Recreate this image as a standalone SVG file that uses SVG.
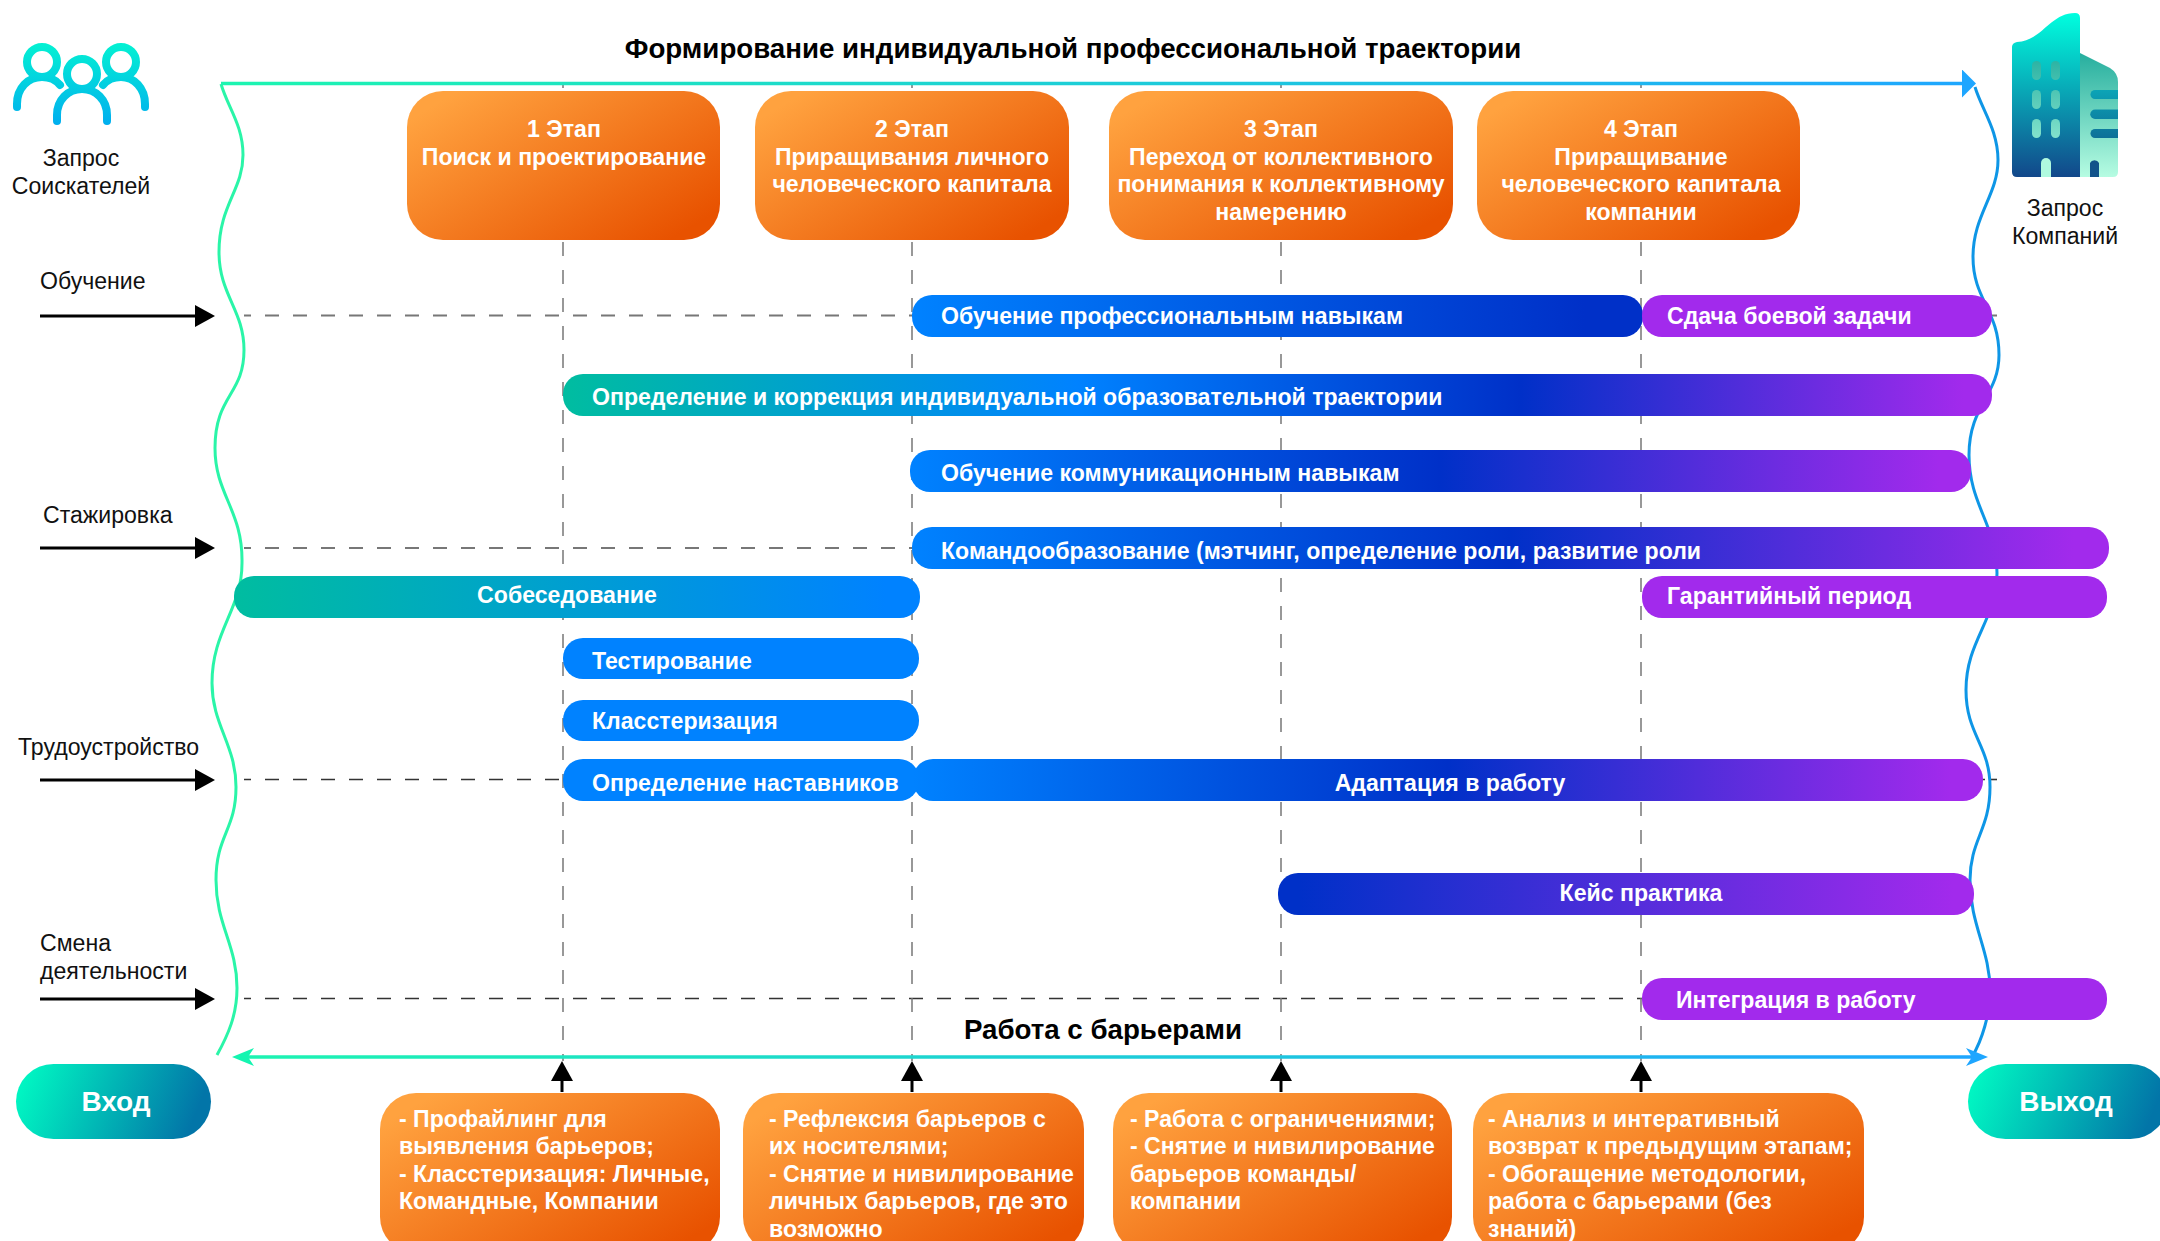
<svg xmlns="http://www.w3.org/2000/svg" width="2160" height="1241" viewBox="0 0 2160 1241">
<style>
text{font-family:"Liberation Sans",Arial,sans-serif}
.t{font-size:23.100px;fill:#111}
.b{font-size:23.100px;font-weight:700;fill:#fff}
.h{font-size:27.700px;font-weight:700;fill:#000}
.pill{font-size:28px;font-weight:700;fill:#fff}
.m{text-anchor:middle}
.dash{stroke:#777;stroke-width:2;stroke-dasharray:14 14;stroke-dashoffset:7;fill:none}
.dash2{stroke:#333;stroke-width:1.600;stroke-dasharray:14 14;stroke-dashoffset:7;fill:none}
.vdash{stroke:#777;stroke-width:1.500;stroke-dasharray:14 14;stroke-dashoffset:10;fill:none}
.blk{stroke:#000;stroke-width:3;fill:none}
</style>
<defs>
<linearGradient id="or" x1="0" y1="0.1" x2="1" y2="0.9"><stop offset="0.05" stop-color="#FFA23F"/><stop offset="0.95" stop-color="#E85200"/></linearGradient>
<linearGradient id="pillg" x1="0" y1="0" x2="1" y2="0.15"><stop offset="0" stop-color="#00FFC4"/><stop offset="1" stop-color="#0275A8"/></linearGradient>
<linearGradient id="gProf" x1="0" x2="1" y1="0" y2="0"><stop offset="0" stop-color="#0082FF"/><stop offset="0.92" stop-color="#0030C8"/></linearGradient>
<linearGradient id="gTraj" x1="0" x2="1" y1="0" y2="0"><stop offset="0" stop-color="#00BDA0"/><stop offset="0.36" stop-color="#0082FF"/><stop offset="0.67" stop-color="#0030C8"/><stop offset="0.98" stop-color="#A22AEC"/></linearGradient>
<linearGradient id="gBP" x1="0" x2="1" y1="0" y2="0"><stop offset="0" stop-color="#0082FF"/><stop offset="0.5" stop-color="#0030C8"/><stop offset="0.97" stop-color="#A22AEC"/></linearGradient>
<linearGradient id="gTealBlue" x1="0" x2="1" y1="0" y2="0"><stop offset="0" stop-color="#00BDA0"/><stop offset="0.95" stop-color="#0082FF"/></linearGradient>
<linearGradient id="gDark" x1="0" x2="1" y1="0" y2="0"><stop offset="0.03" stop-color="#0030C8"/><stop offset="0.97" stop-color="#A22AEC"/></linearGradient>
<linearGradient id="topL" gradientUnits="userSpaceOnUse" x1="221" x2="1976" y1="0" y2="0"><stop offset="0" stop-color="#1CF5B0"/><stop offset="1" stop-color="#1EA6FF"/></linearGradient>
<linearGradient id="ppl" gradientUnits="userSpaceOnUse" x1="0" x2="0" y1="42" y2="125"><stop offset="0" stop-color="#04F2D2"/><stop offset="1" stop-color="#00AEEF"/></linearGradient>
<linearGradient id="bl" gradientUnits="userSpaceOnUse" x1="0" x2="0" y1="13" y2="177"><stop offset="0" stop-color="#00FFDF"/><stop offset="1" stop-color="#12478A"/></linearGradient>
<linearGradient id="br" gradientUnits="userSpaceOnUse" x1="0" x2="0" y1="53" y2="177"><stop offset="0" stop-color="#26AE9E"/><stop offset="1" stop-color="#B6FCE2"/></linearGradient>
<linearGradient id="bw" gradientUnits="userSpaceOnUse" x1="0" x2="0" y1="61" y2="138"><stop offset="0" stop-color="#2DB3A4"/><stop offset="1" stop-color="#82E2CC"/></linearGradient>
<linearGradient id="bs" gradientUnits="userSpaceOnUse" x1="0" x2="0" y1="90" y2="138"><stop offset="0" stop-color="#0CA4B6"/><stop offset="1" stop-color="#0D7098"/></linearGradient>
<marker id="mBlk" markerUnits="userSpaceOnUse" markerWidth="20" markerHeight="24" refX="0" refY="12" orient="auto"><path d="M0,1L20,12L0,23Z" fill="#000"/></marker>
<marker id="mBlue" markerUnits="userSpaceOnUse" markerWidth="14" markerHeight="28" refX="0" refY="14" orient="auto"><path d="M0,0L14,14L0,28Z" fill="#1EA6FF"/></marker>
<marker id="mG" markerUnits="userSpaceOnUse" markerWidth="22" markerHeight="18" refX="6" refY="9" orient="auto"><path d="M0,0L22,9L0,18L6,9Z" fill="#14F5B0"/></marker>
<marker id="mB2" markerUnits="userSpaceOnUse" markerWidth="22" markerHeight="18" refX="6" refY="9" orient="auto"><path d="M0,0L22,9L0,18L6,9Z" fill="#1EA6FF"/></marker>
</defs>

<g id="connectors">
<path class="dash" d="M244,315.500H1985"/>
<path class="dash" d="M244,548H1985"/>
<path class="dash2" d="M244,779.500H1985"/>
<path class="dash2" d="M244,998.500H1985"/>
<path d="M1988,315.500H1997" stroke="#777" stroke-width="2" fill="none"/>
<path d="M1989,779.500H1997" stroke="#333" stroke-width="1.600" fill="none"/>
<path class="vdash" d="M563,84V1061"/><path class="vdash" d="M912,84V1061"/><path class="vdash" d="M1281,84V1061"/><path class="vdash" d="M1641,84V1061"/>
<path d="M221,84C228,108 243,125 243,155C243,190 219,205 219,252C219,295 244,310 244,350C244,395 215,395 215,448C215,495 243,510 242,563C242,610 212,630 212,683C212,725 236,745 236,787C236,830 216,835 216,880C216,925 237,945 237,988C237,1015 228,1035 217,1055" fill="none" stroke="#2AF5A8" stroke-width="3"/>
<path d="M1975,87C1982,110 1998,130 1998,160C1998,195 1973,215 1973,257C1973,300 1999,310 1999,355C1999,395 1969,405 1969,455C1969,505 1997,525 1997,573C1997,620 1966,640 1966,690C1966,735 1990,745 1990,787C1990,830 1970,840 1970,880C1970,925 1990,950 1990,990C1990,1015 1982,1040 1972,1057" fill="none" stroke="#0E96E6" stroke-width="3"/>
<path d="M221,83.500H1962" stroke="url(#topL)" stroke-width="3.500" fill="none" marker-end="url(#mBlue)"/>
<path d="M1100,1057H248" stroke="url(#topL)" stroke-width="3.500" fill="none" marker-end="url(#mG)"/>
<path d="M1100,1057H1972" stroke="url(#topL)" stroke-width="3.500" fill="none" marker-end="url(#mB2)"/>
<path class="blk" d="M40,316H195" marker-end="url(#mBlk)"/>
<path class="blk" d="M40,548H195" marker-end="url(#mBlk)"/>
<path class="blk" d="M40,780H195" marker-end="url(#mBlk)"/>
<path class="blk" d="M40,999H195" marker-end="url(#mBlk)"/>
<path class="blk" d="M562,1092V1081" marker-end="url(#mBlk)"/>
<path class="blk" d="M912,1092V1081" marker-end="url(#mBlk)"/>
<path class="blk" d="M1281,1092V1081" marker-end="url(#mBlk)"/>
<path class="blk" d="M1641,1092V1081" marker-end="url(#mBlk)"/>
</g>

<g id="title"><text class="h m" x="1073" y="58">Формирование индивидуальной профессиональной траектории</text></g>
<g id="barriers-title"><text class="h m" x="1103" y="1039">Работа с барьерами</text></g>

<g id="icon-seekers" fill="none" stroke="url(#ppl)" stroke-width="8" stroke-linecap="round">
<circle cx="42" cy="62" r="15"/><circle cx="121" cy="62" r="15"/><circle cx="82" cy="74" r="15"/>
<path d="M17,107V104C17,88 28,77 42,77C50,77 56,80 60,85"/>
<path d="M145,107V104C145,88 134,77 121,77C113,77 107,80 103,85"/>
<path d="M57,121V115C57,100 68,89 82,89C96,89 107,100 107,115V121"/>
</g>
<g id="label-seekers"><text class="t m" x="81" y="166">Запрос</text><text class="t m" x="81" y="194">Соискателей</text></g>

<g id="icon-companies">
<path d="M2080,53L2110,68Q2118,73 2118,82V172Q2118,177 2113,177H2080Z" fill="url(#br)"/>
<path d="M2017,177Q2012,177 2012,172V47Q2012,43 2017,42C2042,41 2050,13 2075,13Q2080,13 2080,18V177Z" fill="url(#bl)"/>
<g fill="url(#bw)">
<rect x="2032" y="61" width="9" height="19" rx="4.500"/><rect x="2051" y="61" width="9" height="19" rx="4.500"/>
<rect x="2032" y="90" width="9" height="19" rx="4.500"/><rect x="2051" y="90" width="9" height="19" rx="4.500"/>
<rect x="2032" y="119" width="9" height="19" rx="4.500"/><rect x="2051" y="119" width="9" height="19" rx="4.500"/>
</g>
<g fill="url(#bs)">
<path d="M2118,90H2095A4.500,4.500 0 0 0 2095,99H2118Z"/>
<path d="M2118,109.500H2095A4.500,4.500 0 0 0 2095,119H2118Z"/>
<path d="M2118,129H2095A4.500,4.500 0 0 0 2095,138H2118Z"/>
</g>
<path d="M2041,177V163A5,5 0 0 1 2051,163V177Z" fill="#B0FADF"/>
<path d="M2090,177V163A5,5 0 0 1 2099,163V177Z" fill="#11528A"/>
</g>
<g id="label-companies"><text class="t m" x="2065" y="216">Запрос</text><text class="t m" x="2065" y="244">Компаний</text></g>

<g id="label-learning"><text class="t" x="40" y="289">Обучение</text></g>
<g id="label-internship"><text class="t" x="43" y="523">Стажировка</text></g>
<g id="label-employment"><text class="t" x="18" y="755">Трудоустройство</text></g>
<g id="label-change"><text class="t" x="40" y="951">Смена</text><text class="t" x="40" y="979">деятельности</text></g>

<g id="stage-1"><rect x="407" y="91" width="313" height="149" rx="36" fill="url(#or)"/><text class="b m" x="564" y="137">1 Этап</text><text class="b m" x="564" y="165">Поиск и проектирование</text></g>
<g id="stage-2"><rect x="755" y="91" width="314" height="149" rx="36" fill="url(#or)"/><text class="b m" x="912" y="137">2 Этап</text><text class="b m" x="912" y="165">Приращивания личного</text><text class="b m" x="912" y="192">человеческого капитала</text></g>
<g id="stage-3"><rect x="1109" y="91" width="344" height="149" rx="36" fill="url(#or)"/><text class="b m" x="1281" y="137">3 Этап</text><text class="b m" x="1281" y="165">Переход от коллективного</text><text class="b m" x="1281" y="192">понимания к коллективному</text><text class="b m" x="1281" y="220">намерению</text></g>
<g id="stage-4"><rect x="1477" y="91" width="323" height="149" rx="36" fill="url(#or)"/><text class="b m" x="1641" y="137">4 Этап</text><text class="b m" x="1641" y="165">Приращивание</text><text class="b m" x="1641" y="192">человеческого капитала</text><text class="b m" x="1641" y="220">компании</text></g>

<g id="bar-prof"><rect x="912" y="295" width="731" height="42" rx="20" fill="url(#gProf)"/><text class="b" x="941" y="324">Обучение профессиональным навыкам</text></g>
<g id="bar-task"><rect x="1642" y="295" width="350" height="42" rx="20" fill="#A22AEC"/><text class="b" x="1667" y="324">Сдача боевой задачи</text></g>
<g id="bar-traj"><rect x="563" y="374" width="1429" height="42" rx="20" fill="url(#gTraj)"/><text class="b" x="592" y="405">Определение и коррекция индивидуальной образовательной траектории</text></g>
<g id="bar-comm"><rect x="910" y="450" width="1061" height="42" rx="20" fill="url(#gBP)"/><text class="b" x="941" y="481">Обучение коммуникационным навыкам</text></g>
<g id="bar-team"><rect x="912" y="527" width="1197" height="42" rx="20" fill="url(#gBP)"/><text class="b" x="941" y="559">Командообразование (мэтчинг, определение роли, развитие роли</text></g>
<g id="bar-interview"><rect x="234" y="576" width="686" height="42" rx="20" fill="url(#gTealBlue)"/><text class="b m" x="567" y="603">Собеседование</text></g>
<g id="bar-warranty"><rect x="1642" y="576" width="465" height="42" rx="20" fill="#A22AEC"/><text class="b" x="1667" y="604">Гарантийный период</text></g>
<g id="bar-test"><rect x="563" y="638" width="356" height="41" rx="20" fill="#0082FF"/><text class="b" x="592" y="669">Тестирование</text></g>
<g id="bar-cluster"><rect x="563" y="700" width="356" height="41" rx="20" fill="#0082FF"/><text class="b" x="592" y="729">Класстеризация</text></g>
<g id="bar-mentors"><rect x="563" y="759" width="356" height="42" rx="20" fill="#0082FF"/><text class="b" x="592" y="791">Определение наставников</text></g>
<g id="bar-adapt"><rect x="913" y="759" width="1070" height="42" rx="20" fill="url(#gBP)"/><text class="b m" x="1450" y="791">Адаптация в работу</text></g>
<g id="bar-case"><rect x="1278" y="873" width="696" height="42" rx="20" fill="url(#gDark)"/><text class="b m" x="1641" y="901">Кейс практика</text></g>
<g id="bar-integration"><rect x="1642" y="978" width="465" height="42" rx="20" fill="#A22AEC"/><text class="b" x="1676" y="1008">Интеграция в работу</text></g>

<g id="entry"><rect x="16" y="1064" width="195" height="75" rx="37.500" fill="url(#pillg)"/><text class="pill m" x="116" y="1111">Вход</text></g>
<g id="exit"><rect x="1968" y="1064" width="200" height="75" rx="37.500" fill="url(#pillg)"/><text class="pill m" x="2066" y="1111">Выход</text></g>

<g id="barrier-1"><rect x="380" y="1093" width="340" height="160" rx="36" fill="url(#or)"/><text class="b" x="399" y="1127">- Профайлинг для</text><text class="b" x="399" y="1154">выявления барьеров;</text><text class="b" x="399" y="1182">- Класстеризация: Личные,</text><text class="b" x="399" y="1209">Командные, Компании</text></g>
<g id="barrier-2"><rect x="743" y="1093" width="341" height="160" rx="36" fill="url(#or)"/><text class="b" x="769" y="1127">- Рефлексия барьеров с</text><text class="b" x="769" y="1154">их носителями;</text><text class="b" x="769" y="1182">- Снятие и нивилирование</text><text class="b" x="769" y="1209">личных барьеров, где это</text><text class="b" x="769" y="1237">возможно</text></g>
<g id="barrier-3"><rect x="1113" y="1093" width="339" height="160" rx="36" fill="url(#or)"/><text class="b" x="1130" y="1127">- Работа с ограничениями;</text><text class="b" x="1130" y="1154">- Снятие и нивилирование</text><text class="b" x="1130" y="1182">барьеров команды/</text><text class="b" x="1130" y="1209">компании</text></g>
<g id="barrier-4"><rect x="1473" y="1093" width="391" height="160" rx="36" fill="url(#or)"/><text class="b" x="1488" y="1127">- Анализ и интеративный</text><text class="b" x="1488" y="1154">возврат к предыдущим этапам;</text><text class="b" x="1488" y="1182">- Обогащение методологии,</text><text class="b" x="1488" y="1209">работа с барьерами (без</text><text class="b" x="1488" y="1237">знаний)</text></g>
</svg>
